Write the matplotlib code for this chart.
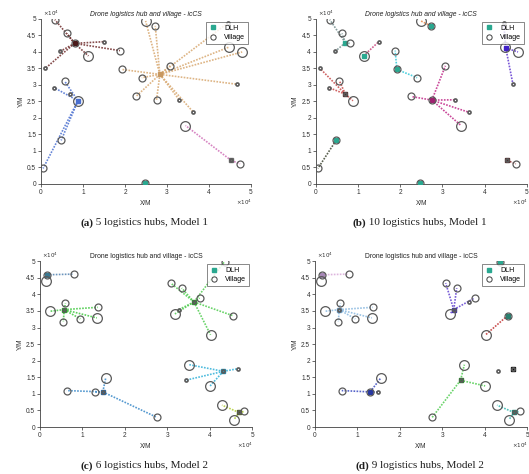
import matplotlib
matplotlib.use("Agg")
import matplotlib.pyplot as plt
from matplotlib.lines import Line2D

# village coordinates (x10^4 m) and marker size class (0 small, 1 medium, 2 large)
m1_x = [0.33, 0.62, 0.80, 0.46, 1.13, 1.49, 1.88, 0.10, 0.56, 0.31, 0.88, 0.70,
        0.48, 0.05, 2.49, 2.72, 1.92, 2.40, 2.26, 2.75, 3.07, 3.29, 3.63, 3.44,
        4.45, 4.48, 4.79, 4.67, 4.53, 4.74, 2.47]
m1_y = [4.98, 4.56, 4.26, 4.02, 3.88, 4.31, 4.04, 3.50, 3.12, 2.92, 2.52, 2.72,
        1.32, 0.47, 4.94, 4.79, 3.47, 3.22, 2.65, 2.54, 3.58, 2.55, 2.17, 1.77,
        4.88, 4.15, 4.00, 3.02, 0.71, 0.61, 0.04]
m1_size = [1, 1, 1, 0, 2, 0, 1, 0, 1, 0, 2, 0,
           1, 1, 2, 1, 1, 1, 1, 1, 1, 0, 0, 2,
           0, 2, 2, 0, 0, 1, 1]

m2_x = [0.16, 0.13, 0.79, 4.35, 3.08, 3.34, 3.76, 3.18, 3.27, 4.54, 4.02, 0.60,
        0.23, 1.36, 1.34, 0.55, 0.95, 3.52, 4.67, 3.43, 4.01, 0.63, 1.30, 1.48,
        1.55, 2.76, 4.29, 4.82, 4.57, 4.69, 0.57, 3.63, 4.32]
m2_y = [4.59, 4.39, 4.61, 4.99, 4.34, 4.19, 3.89, 3.41, 3.54, 3.36, 2.78, 3.73,
        3.49, 3.61, 3.29, 3.17, 3.26, 1.88, 1.76, 1.41, 1.24, 1.10, 1.06, 1.06,
        1.48, 0.29, 0.66, 0.47, 0.22, 0.44, 3.54, 3.77, 1.68]
m2_size = [1, 2, 1, 1, 1, 1, 1, 2, 0, 1, 2, 1,
           2, 1, 2, 1, 1, 2, 0, 0, 2, 1, 1, 0,
           2, 1, 2, 1, 2, 0, 0, 0, 0]

# hubs per panel: (hub x, hub y, served village indices)
hubs_a = [(0.80, 4.26, [0, 1, 3, 4, 5, 6, 7]),
          (0.88, 2.52, [8, 9, 12, 13]),
          (2.83, 3.32, [14, 15, 16, 17, 18, 19, 20, 21, 22, 24, 25, 26, 27]),
          (4.53, 0.71, [23, 29]),
          (2.47, 0.04, [])]
hubs_b = [(0.70, 4.28, [0, 1, 2, 3]),
          (1.13, 3.88, [5]),
          (1.92, 3.47, [6, 17]),
          (0.70, 2.72, [7, 8, 9, 10]),
          (2.72, 4.79, [14]),
          (2.75, 2.54, [18, 20, 21, 22, 23]),
          (4.50, 4.12, [24, 25, 26, 27]),
          (0.48, 1.32, [13]),
          (2.47, 0.04, []),
          (4.53, 0.71, [29])]
hubs_c = [(0.16, 4.59, [2]),
          (0.57, 3.54, [11, 12, 13, 14, 15, 16]),
          (3.63, 3.77, [3, 4, 5, 6, 7, 8, 9, 10]),
          (4.32, 1.68, [17, 18, 19, 20]),
          (1.48, 1.06, [21, 22, 24, 25]),
          (4.69, 0.44, [26, 27, 28])]
hubs_d = [(0.16, 4.59, [2]),
          (4.35, 4.99, []),
          (3.27, 3.54, [4, 5, 6, 7]),
          (4.54, 3.36, [10]),
          (0.57, 3.54, [11, 12, 13, 14, 15, 16]),
          (4.67, 1.76, []),
          (3.43, 1.41, [17, 20, 25]),
          (1.30, 1.06, [21, 23, 24]),
          (4.69, 0.44, [26, 27, 28])]

# line colours and hub marker colours per panel
colors_a = ['#6e2a2a', '#4a6fd0', '#d8a870', '#d070b8', '#2aa890']
hubcol_a = ['#4a1a1a', '#4a6fd0', '#c89860', '#707070', '#2aa890']
colors_b = ['#708c8c', '#c8407a', '#30c8d8', '#c84848', '#e88848',
            '#c02888', '#6038d0', '#3c4430', '#2aa890', '#8a2a2a']
hubcol_b = ['#2aa890', '#2aa890', '#2aa890', '#503030', '#2aa890',
            '#a02070', '#4020c8', '#2aa890', '#2aa890', '#503030']
colors_c = ['#5080b0', '#40c840', '#50cc50', '#30b0d8', '#3888c8', '#b0cc30']
hubcol_c = ['#3a7890', '#30a030', '#30a030', '#2a90b0', '#2a6aa8', '#506020']
colors_d = ['#d8a8d8', '#2aa890', '#6040d0', '#c03030', '#88b8e0',
            '#101010', '#50cc50', '#3848c0', '#30b8b0']
hubcol_d = ['#a888b8', '#2aa890', '#4030b0', '#2a8070', '#70a0c8',
            '#101010', '#308030', '#2838a0', '#208878']

captions = [('(a)', ' 5 logistics hubs, Model 1'), ('(b)', ' 10 logistics hubs, Model 1'),
            ('(c)', ' 6 logistics hubs, Model 2'), ('(d)', ' 9 logistics hubs, Model 2')]
xticks = [0, 1, 2, 3, 4, 5]
yticks = [0, 0.5, 1, 1.5, 2, 2.5, 3, 3.5, 4, 4.5, 5]
ytick_labels = ['0', '0.5', '1', '1.5', '2', '2.5', '3', '3.5', '4', '4.5', '5']

plt.rcParams['font.family'] = ['Liberation Sans', 'DejaVu Sans']
fig = plt.figure(figsize=(5.29, 4.74), dpi=100)
fig.set_facecolor('white')

positions = [[0.0775, 0.612, 0.397, 0.348], [0.597, 0.612, 0.399, 0.348],
             [0.0756, 0.099, 0.401, 0.350], [0.5955, 0.099, 0.401, 0.350]]
panels = [(m1_x, m1_y, m1_size, hubs_a, colors_a, hubcol_a, True),
          (m1_x, m1_y, m1_size, hubs_b, colors_b, hubcol_b, True),
          (m2_x, m2_y, m2_size, hubs_c, colors_c, hubcol_c, False),
          (m2_x, m2_y, m2_size, hubs_d, colors_d, hubcol_d, False)]
msizes = [2.2, 5.0, 7.0]
hub_teal = '#2aa890'

for k, (vx, vy, vs, hubs, cols, hcols, ital) in enumerate(panels):
    ax = fig.add_axes(positions[k])
    # connections
    for (hx, hy, served), c in zip(hubs, cols):
        for i in served:
            ax.plot([hx, vx[i]], [hy, vy[i]], linestyle=(0, (1, 0.8)), lw=1.2,
                    color=c, alpha=0.85, zorder=2)
    # hub markers
    for (hx, hy, served), c in zip(hubs, hcols):
        ax.plot(hx, hy, 's', ms=2.6, color=c, mec=c, zorder=3)
    # villages
    for x, y, s in zip(vx, vy, vs):
        ax.plot(x, y, 'o', ms=msizes[s], mfc='none', mec='#5a5a5a',
                mew=0.9 if s else 1.2, zorder=4)

    ax.set_xlim(0, 5)
    ax.set_ylim(0, 5)
    ax.set_xticks(xticks)
    ax.set_yticks(yticks)
    ax.set_yticklabels(ytick_labels)
    ax.tick_params(labelsize=4.7, length=2, width=0.5, colors='#303030', pad=1.5)
    for pos in ['top', 'right']:
        ax.spines[pos].set_visible(False)
    for pos in ['left', 'bottom']:
        ax.spines[pos].set_linewidth(0.6)
        ax.spines[pos].set_color('#404040')
    ax.set_xlabel('X/M', fontsize=4.7, labelpad=3, color='#303030')
    ax.set_ylabel('Y/M', fontsize=4.7, labelpad=2, color='#303030')
    ax.set_title('Drone logistics hub and village - icCS', fontsize=4.9,
                 style='italic' if ital else 'normal', pad=2, color='#202020')
    ax.text(0.01, 1.005, r'$\times10^4$', transform=ax.transAxes, fontsize=4,
            va='bottom', ha='left', color='#303030')
    ax.text(0.965, -0.085, r'$\times10^4$', transform=ax.transAxes, fontsize=4,
            va='top', ha='center', color='#303030')

    handles = [Line2D([], [], ls='none', marker='s', ms=3, color=hub_teal),
               Line2D([], [], ls='none', marker='o', ms=3.8, mfc='none', mec='#404040', mew=0.7)]
    leg = ax.legend(handles, ['DLH', 'Village'], loc='upper right', fontsize=5,
                    frameon=True, fancybox=False, borderpad=0.45, handlelength=1.3,
                    handletextpad=0.9, labelspacing=0.3, borderaxespad=0.4)
    leg.get_frame().set_edgecolor('#303030')
    leg.get_frame().set_linewidth(0.5)

    # caption below the panel, bold label then plain text
    p = positions[k]
    cx = p[0] + p[2] * 0.49
    cy = p[1] - 0.082
    t1 = fig.text(cx, cy, captions[k][0] + captions[k][1], fontsize=8,
                  family='Liberation Serif', ha='center', va='center', color='white')
    fig.canvas.draw()
    bb = t1.get_window_extent()
    x0 = bb.x0 / fig.bbox.width
    t1.remove()
    ta = fig.text(x0, cy, captions[k][0], fontsize=8, family='Liberation Serif',
                  fontweight='bold', ha='left', va='center', color='#202020')
    bba = ta.get_window_extent(fig.canvas.get_renderer())
    fig.text(bba.x1 / fig.bbox.width, cy, captions[k][1], fontsize=8,
             family='Liberation Serif', ha='left', va='center', color='#202020')

fig.savefig('out.png', dpi=100)
